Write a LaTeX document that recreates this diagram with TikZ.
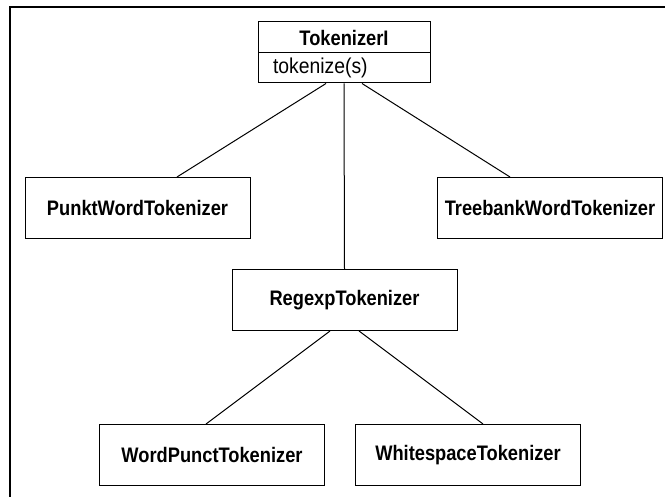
\documentclass[tikz,border=0pt]{standalone}
\usepackage{fontspec}
\setmainfont{Liberation Sans}
\newfontfamily\lblfont[FakeStretch=0.87]{Liberation Sans Bold}
\newfontfamily\mthfont[FakeStretch=0.9]{Liberation Sans}
\newfontfamily\hdrfont[FakeStretch=0.87]{Liberation Sans Bold}
\usetikzlibrary{calc}
\tikzset{
  x=1pt, y=1pt,
  cls/.style={draw, line width=1pt, minimum width=225pt, minimum height=61pt, inner sep=0pt,
    font=\lblfont\fontsize{21}{24}\selectfont},
  hdr/.style={draw, line width=1pt, minimum width=172pt, minimum height=31pt, inner sep=0pt,
    font=\hdrfont\fontsize{21}{24}\selectfont},
  mth/.style={draw, line width=1pt, minimum height=30pt, text width=142pt, inner xsep=15pt, inner ysep=0pt,
    align=left, font=\mthfont\fontsize{21.5}{24}\selectfont},
  link/.style={line width=1pt},
  frame/.style={line width=1.4pt}
}
\begin{document}
\begin{tikzpicture}
\useasboundingbox (0,0) rectangle (665,-497);
\coordinate (fa) at (10,-497);
\coordinate (fb) at (10,-7);
\coordinate (fc) at (665,-7);
\draw[frame] (fa) -- (fb) -- (fc);

\node[hdr] (tt) at (344,-37.5) {TokenizerI};
\node[mth] (tm) at (344,-68) {tokenize(s)};

\node[cls] (punkt) at (137.5,-208) {PunktWordTokenizer};
\node[cls] (tree) at (550,-208) {TreebankWordTokenizer};
\node[cls] (regexp) at (344.5,-300) {RegexpTokenizer};
\node[cls] (wordp) at (212,-455) {WordPunctTokenizer};
\node[cls] (white) at (468,-455) {WhitespaceTokenizer};

\draw[link] ($(tm.south)+(-18,0)$) -- ($(punkt.north)+(39.5,0)$);
\draw[link] (tm.south) -- (regexp.north);
\draw[link] ($(tm.south)+(18,0)$) -- ($(tree.north)+(-40,0)$);
\draw[link] ($(regexp.south)+(-14.5,0)$) -- ($(wordp.north)+(-6,0)$);
\draw[link] ($(regexp.south)+(14.5,0)$) -- ($(white.north)+(15,0)$);
\end{tikzpicture}
\end{document}
